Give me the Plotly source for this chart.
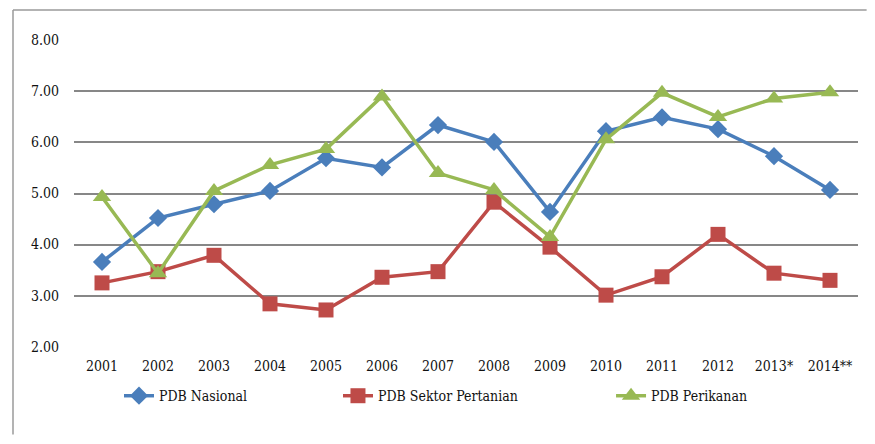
import plotly.graph_objects as go

years = ["2001", "2002", "2003", "2004", "2005", "2006", "2007", "2008",
         "2009", "2010", "2011", "2012", "2013*", "2014**"]
pdb_nasional = [3.66, 4.52, 4.79, 5.05, 5.69, 5.51, 6.34, 6.01, 4.64, 6.22, 6.49, 6.26, 5.73, 5.07]
pdb_pertanian = [3.25, 3.47, 3.79, 2.84, 2.72, 3.36, 3.47, 4.83, 3.95, 3.01, 3.37, 4.20, 3.44, 3.30]
pdb_perikanan = [4.93, 3.44, 5.05, 5.56, 5.87, 6.90, 5.40, 5.07, 4.15, 6.06, 6.97, 6.50, 6.86, 6.98]
y_ticks = [2, 3, 4, 5, 6, 7, 8]
y_tick_text = ["2.00", "3.00", "4.00", "5.00", "6.00", "7.00", "8.00"]

FONT = "DejaVu Serif Condensed, DejaVu Serif, serif"
TXT = "#111111"
FS = 14

fig = go.Figure()
fig.add_trace(go.Scatter(x=years, y=pdb_nasional, name="PDB Nasional", mode="lines+markers",
                         line=dict(color="#4A7EBB", width=3.5),
                         marker=dict(symbol="diamond", size=14, color="#4A7EBB"),
                         legend="legend"))
fig.add_trace(go.Scatter(x=years, y=pdb_pertanian, name="PDB Sektor Pertanian", mode="lines+markers",
                         line=dict(color="#BE4B48", width=3.5),
                         marker=dict(symbol="square", size=15, color="#BE4B48"),
                         legend="legend2"))
fig.add_trace(go.Scatter(x=years, y=pdb_perikanan, name="PDB Perikanan", mode="lines+markers",
                         line=dict(color="#98B954", width=3.5),
                         marker=dict(symbol="triangle-up", size=16, color="#98B954"),
                         legend="legend3"))

leg_common = dict(orientation="h", yanchor="middle", xanchor="left", y=-0.16,
                  font=dict(family=FONT, size=FS, color=TXT), bgcolor="rgba(0,0,0,0)")
fig.update_layout(
    width=859, height=428,
    margin=dict(l=66, r=9, t=32, b=89),
    paper_bgcolor="white", plot_bgcolor="white",
    font=dict(family=FONT, size=FS, color=TXT),
    showlegend=True,
    legend=dict(x=0.0574, **leg_common),
    legend2=dict(x=0.3367, **leg_common),
    legend3=dict(x=0.685, **leg_common),
    xaxis=dict(type="category", range=[-0.5, 13.5], showgrid=False, zeroline=False, showline=False,
               ticks="", ticklabelstandoff=9, tickfont=dict(family=FONT, size=FS, color=TXT)),
    yaxis=dict(range=[1.995, 8.005], tickvals=y_ticks, ticktext=y_tick_text,
               showgrid=True, gridcolor="#878787", gridwidth=1.8, zeroline=False,
               showline=False, ticks="", ticklabelstandoff=14,
               tickfont=dict(family=FONT, size=FS, color=TXT)),
    shapes=[
        dict(type="line", xref="paper", yref="paper", x0=-0.0778, x1=-0.0778, y0=1.0977, y1=-0.285,
             line=dict(color="#9A9A9A", width=1.5)),
        dict(type="line", xref="paper", yref="paper", x0=-0.0778, x1=1.011, y0=1.0977, y1=1.0977,
             line=dict(color="#9A9A9A", width=1.5)),
    ],
)

fig.write_html("out.html")
